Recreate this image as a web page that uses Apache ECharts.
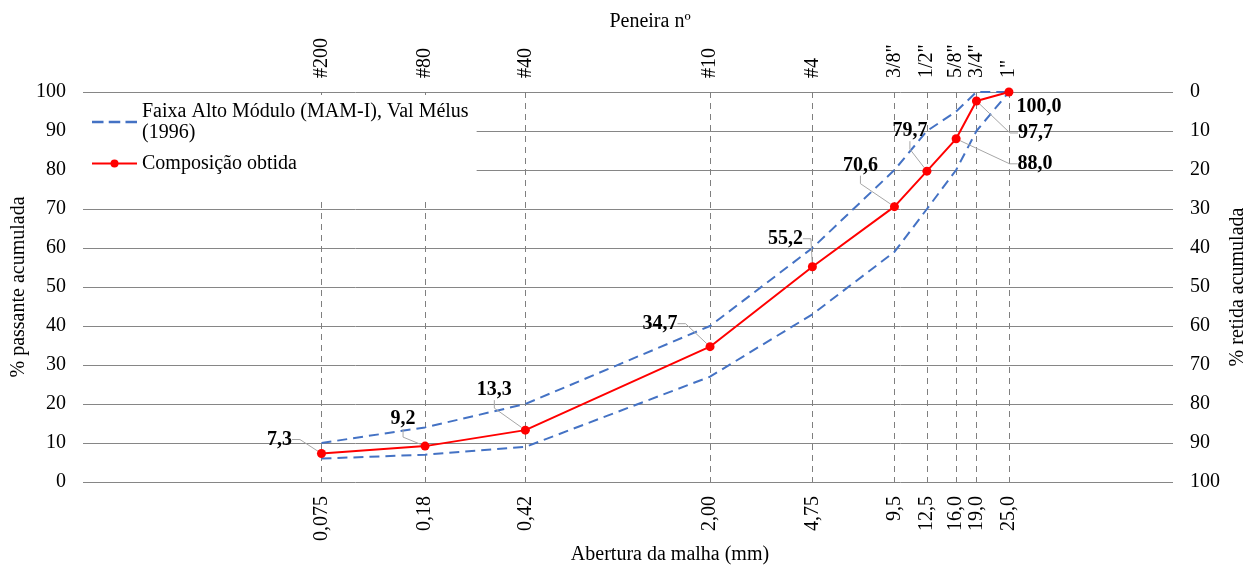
<!DOCTYPE html>
<html>
<head>
<meta charset="utf-8">
<title>Curva granulométrica</title>
<script src="https://cdn.jsdelivr.net/npm/echarts@6/dist/echarts.min.js"></script>
<style>
  html, body { margin: 0; padding: 0; background: #fff; }
  #chart { width: 1251px; height: 567px; }
</style>
</head>
<body>
<div id="chart"></div>
<script>
// aberturas das peneiras (mm) e nomes
const sieveSizes = [0.075, 0.18, 0.42, 2.00, 4.75, 9.5, 12.5, 16.0, 19.0, 25.0];
const sieveSizeLabels = ['0,075', '0,18', '0,42', '2,00', '4,75', '9,5', '12,5', '16,0', '19,0', '25,0'];
const sieveNames = ['#200', '#80', '#40', '#10', '#4', '3/8"', '1/2"', '5/8"', '3/4"', '1"'];

// faixa MAM-I (limites) e composição obtida, % passante
const bandUpper = [10, 14, 20, 40, 60, 80, 90, 95, 100, 100];
const bandLower = [6, 7, 9, 27, 43, 59, 70, 80, 90, 100];
const composicao = [7.3, 9.2, 13.3, 34.7, 55.2, 70.6, 79.7, 88.0, 97.7, 100.0];

const bandName = 'Faixa Alto Módulo (MAM-I), Val Mélus (1996)';
const compName = 'Composição obtida';

// deslocamento dos rótulos em relação ao ponto
const labelOffsets = [
    [-42, -14], [-22, -27], [-31, -40], [-50, -23], [-27, -28],
    [-34, -41], [-17, -40], [79, 25], [59, 32], [30, 15]
];

const font = 'Liberation Serif';
const fs = 20;

function sieveIndex(v) {
    let best = 0;
    for (let i = 0; i < sieveSizes.length; i++) {
        if (Math.abs(Math.log(v / sieveSizes[i])) < Math.abs(Math.log(v / sieveSizes[best]))) best = i;
    }
    return best;
}

function pairs(arr) {
    return arr.map((v, i) => [sieveSizes[i], v]);
}

const chart = echarts.init(document.getElementById('chart'));

const option = {
    animation: false,
    textStyle: { fontFamily: font },
    grid: { left: 83, right: 78, top: 92, bottom: 85, containLabel: false, outerBoundsMode: 'none' },
    legend: {
        orient: 'vertical',
        left: 83,
        top: 95,
        padding: [6, 8, 28, 8],
        itemGap: 10,
        itemWidth: 45,
        itemHeight: 10,
        backgroundColor: '#fff',
        data: [
            { name: bandName, icon: 'path://M0,0h11v2.2h-11zM16,0h11v2.2h-11zM32,0h11v2.2h-11z' },
            { name: compName }
        ],
        formatter: function (name) {
            return name === bandName ? 'Faixa Alto Módulo (MAM-I), Val Mélus\n(1996)' : name;
        },
        textStyle: { fontFamily: font, fontSize: fs, color: '#000', lineHeight: 21 }
    },
    xAxis: [
        {
            type: 'log',
            logBase: 10,
            min: 0.01,
            max: 100,
            position: 'bottom',
            name: 'Abertura da malha (mm)',
            nameLocation: 'middle',
            nameGap: 63,
            nameMoveOverlap: false,
            nameTextStyle: { fontFamily: font, fontSize: fs, color: '#000', padding: [0, 0, 0, 84] },
            axisLine: { show: false },
            axisTick: { show: false, customValues: sieveSizes },
            axisLabel: {
                customValues: sieveSizes,
                rotate: 90,
                margin: 14,
                fontFamily: font,
                fontSize: fs,
                color: '#000',
                formatter: function (v) { return sieveSizeLabels[sieveIndex(v)]; }
            },
            splitLine: {
                show: true,
                lineStyle: { color: '#7f7f7f', width: 1, type: [6, 5] }
            },
            minorSplitLine: { show: false }
        },
        {
            type: 'log',
            logBase: 10,
            min: 0.01,
            max: 100,
            position: 'top',
            name: 'Peneira nº',
            nameLocation: 'middle',
            nameGap: 60,
            nameMoveOverlap: false,
            nameTextStyle: { fontFamily: font, fontSize: fs, color: '#000', padding: [0, 0, 0, 44] },
            axisLine: { show: false },
            axisTick: { show: false, customValues: sieveSizes },
            axisLabel: {
                customValues: sieveSizes,
                rotate: 90,
                margin: 14,
                fontFamily: font,
                fontSize: fs,
                color: '#000',
                formatter: function (v) { return sieveNames[sieveIndex(v)]; }
            },
            splitLine: { show: false }
        }
    ],
    yAxis: [
        {
            type: 'value',
            min: 0,
            max: 100,
            interval: 10,
            position: 'left',
            name: '% passante acumulada',
            nameLocation: 'middle',
            nameRotate: 90,
            nameGap: 54,
            nameMoveOverlap: false,
            nameTextStyle: { fontFamily: font, fontSize: fs, color: '#000' },
            axisLine: { show: false },
            axisTick: { show: false },
            axisLabel: { margin: 17, fontFamily: font, fontSize: fs, color: '#000' },
            splitLine: { show: true, lineStyle: { color: '#868686', width: 1 } }
        },
        {
            type: 'value',
            min: 0,
            max: 100,
            interval: 10,
            inverse: true,
            position: 'right',
            name: '% retida acumulada',
            nameLocation: 'middle',
            nameRotate: 90,
            nameGap: 55,
            nameMoveOverlap: false,
            nameTextStyle: { fontFamily: font, fontSize: fs, color: '#000' },
            axisLine: { show: false },
            axisTick: { show: false },
            axisLabel: { margin: 17, fontFamily: font, fontSize: fs, color: '#000' },
            splitLine: { show: false }
        }
    ],
    series: [
        {
            name: bandName,
            type: 'line',
            data: pairs(bandUpper),
            symbol: 'none',
            lineStyle: { color: '#4472c4', width: 2, type: [10, 6] },
            itemStyle: { color: '#4472c4' },
            z: 2
        },
        {
            name: bandName,
            type: 'line',
            data: pairs(bandLower),
            symbol: 'none',
            lineStyle: { color: '#4472c4', width: 2, type: [10, 6] },
            itemStyle: { color: '#4472c4' },
            z: 2
        },
        {
            name: compName,
            type: 'line',
            data: composicao.map((v, i) => ({
                value: [sieveSizes[i], v],
                labelLine: { show: i !== composicao.length - 1 }
            })),
            symbol: 'circle',
            symbolSize: 9,
            lineStyle: { color: '#ff0000', width: 2 },
            itemStyle: { color: '#ff0000' },
            label: {
                show: true,
                position: 'inside',
                fontFamily: font,
                fontSize: fs,
                fontWeight: 'bold',
                color: '#000',
                formatter: function (p) { return p.value[1].toFixed(1).replace('.', ','); }
            },
            labelLine: {
                show: true,
                length2: 8,
                lineStyle: { color: '#a6a6a6', width: 1 }
            },
            labelLayout: function (params) {
                const o = labelOffsets[params.dataIndex];
                return { dx: o[0], dy: o[1] };
            },
            z: 3
        }
    ]
};

chart.setOption(option);
</script>
</body>
</html>
